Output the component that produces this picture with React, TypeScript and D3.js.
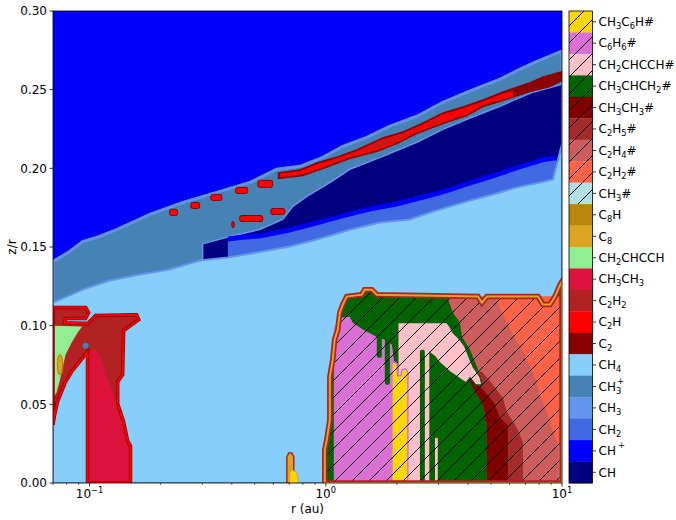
import React from 'react'
import * as d3 from 'd3'

type Pt = [number, number]
type Box = [number, number, number, number] // r0, r1, z0, z1

// colorbar, top to bottom ('#' = ice, hatched)
const cbLabels = ['CH_3C_6H#', 'C_6H_6#', 'CH_2CHCCH#', 'CH_3CHCH_2#', 'CH_3CH_3#', 'C_2H_5#', 'C_2H_4#', 'C_2H_2#', 'CH_3#',
  'C_8H', 'C_8', 'CH_2CHCCH', 'CH_3CH_3', 'C_2H_2', 'C_2H', 'C_2', 'CH_4', 'CH_3^+', 'CH_3', 'CH_2', 'CH^+', 'CH']
const cbColors = ['gold', 'orchid', 'pink', 'darkgreen', 'maroon', 'brown', 'indianred', 'tomato', 'powderblue',
  'darkgoldenrod', 'goldenrod', 'lightgreen', 'crimson', 'firebrick', 'red', 'darkred', 'lightskyblue', 'steelblue',
  'cornflowerblue', 'royalblue', 'blue', 'navy']

const yTicks = [0, 0.05, 0.1, 0.15, 0.2, 0.25, 0.3]
const xMajor = [0.1, 1, 10]
const xMajorExp = ['\u22121', '0', '1']
const xMinor = [0.07, 0.08, 0.09, 0.2, 0.3, 0.4, 0.5, 0.6, 0.7, 0.8, 0.9, 2, 3, 4, 5, 6, 7, 8, 9]

// upper layers: boundaries (r [au], z/r), everything below each line is that species
const ch3pTop: Pt[] = [[0.07, 0.1408], [0.082, 0.147], [0.0934, 0.1535], [0.11, 0.1567], [0.13, 0.161], [0.18, 0.1707],
  [0.248, 0.1783], [0.345, 0.1847], [0.477, 0.191], [0.62, 0.1994], [0.776, 0.2013], [0.971, 0.207], [1.18, 0.214],
  [1.49, 0.2197], [1.87, 0.2268], [2.43, 0.2331], [3.13, 0.242], [3.96, 0.2484], [5.46, 0.2567], [6.64, 0.263],
  [7.83, 0.268], [10, 0.2745]]
const chTop: Pt[] = [[0.301, 0.152], [0.392, 0.1567], [0.525, 0.1611], [0.657, 0.1675], [0.725, 0.1758], [0.831, 0.1822],
  [1.04, 0.191], [1.264, 0.1994], [1.744, 0.2076], [2.43, 0.2166], [3.13, 0.2248], [3.96, 0.2312], [5.46, 0.2395],
  [7.54, 0.2484], [10, 0.2535]]
const chBottom: Pt[] = [[0.385, 0.1567], [0.454, 0.158], [0.525, 0.1586], [0.608, 0.1605], [0.704, 0.1624], [0.916, 0.1669],
  [1.18, 0.1713], [1.537, 0.1758], [2.0, 0.179], [2.58, 0.1834], [3.13, 0.1866], [3.96, 0.1917], [5.1, 0.1968],
  [6.64, 0.2025], [8.31, 0.207], [9.52, 0.2083]]
const ch2Top: Pt[] = [[0.385, 0.1535], [0.454, 0.1548], [0.525, 0.1554], [0.608, 0.1573], [0.704, 0.1592], [0.916, 0.1637],
  [1.18, 0.1682], [1.537, 0.1726], [2.0, 0.1758], [2.58, 0.18], [3.13, 0.1834], [3.96, 0.1885], [5.1, 0.1936],
  [6.64, 0.1994], [8.31, 0.2038], [9.43, 0.2051]]
const ch4Top: Pt[] = [[0.07, 0.1146], [0.08, 0.1185], [0.0934, 0.1229], [0.1215, 0.1287], [0.163, 0.1325], [0.218, 0.1357],
  [0.2925, 0.1414], [0.385, 0.1433], [0.51, 0.1465], [0.704, 0.1503], [0.916, 0.1548], [1.264, 0.161], [1.694, 0.1656],
  [2.27, 0.1675], [2.84, 0.1726], [3.96, 0.179], [5.1, 0.1834], [6.44, 0.1879], [8.07, 0.191], [9.16, 0.193],
  [9.62, 0.2057], [10, 0.2153]]

// C2 / C2H / C2H2 streak along the upper layer
const streakC2: Pt[] = [[0.626, 0.1975], [0.776, 0.1994], [0.916, 0.2038], [1.11, 0.2076], [1.35, 0.2121], [1.74, 0.2197],
  [2.12, 0.2236], [2.58, 0.2293], [3.13, 0.2357], [3.81, 0.2395], [4.63, 0.2439], [5.62, 0.249], [7.32, 0.2548],
  [8.31, 0.2586], [10, 0.2618], [10, 0.2554], [8.9, 0.2516], [7.32, 0.2484], [5.62, 0.2427], [4.63, 0.2389],
  [3.96, 0.2331], [3.13, 0.228], [2.43, 0.2217], [2.0, 0.2153], [1.64, 0.2102], [1.26, 0.2057], [0.971, 0.1994],
  [0.799, 0.1949], [0.626, 0.193]]
const streakC2H: Pt[] = [[0.64, 0.1965], [0.776, 0.1982], [0.916, 0.2026], [1.11, 0.2064], [1.35, 0.2108], [1.74, 0.2185],
  [2.12, 0.2223], [2.58, 0.228], [3.13, 0.2344], [3.81, 0.2382], [4.63, 0.2426], [5.62, 0.2476], [6.2, 0.249],
  [6.2, 0.2455], [5.62, 0.244], [4.63, 0.2402], [3.96, 0.2344], [3.13, 0.2293], [2.43, 0.223], [2.0, 0.2166],
  [1.64, 0.2115], [1.26, 0.207], [0.971, 0.2007], [0.799, 0.1962], [0.64, 0.1943]]
const streakC2H2: Pt[] = [[1.04, 0.2035], [1.35, 0.2098], [1.74, 0.2172], [2.12, 0.221], [2.58, 0.2262], [3.04, 0.2318],
  [3.04, 0.2305], [2.43, 0.2245], [2.0, 0.2185], [1.64, 0.2135], [1.26, 0.2085], [1.04, 0.2025]]
const c2hBlobs: Box[] = [[0.218, 0.236, 0.17, 0.174], [0.268, 0.2925, 0.1745, 0.1783], [0.326, 0.363, 0.1796, 0.1834],
  [0.415, 0.467, 0.184, 0.1879], [0.515, 0.596, 0.1879, 0.1924], [0.4, 0.41, 0.1624, 0.1662],
  [0.432, 0.541, 0.1662, 0.17], [0.585, 0.67, 0.1707, 0.1745]]

// inner disc, r < 0.2 au
const innerC2H2: Pt[] = [[0.07, 0.1115], [0.0962, 0.1115], [0.099, 0.1083], [0.0962, 0.1045], [0.0791, 0.1045],
  [0.0784, 0.1019], [0.098, 0.1013], [0.106, 0.1064], [0.158, 0.107], [0.1615, 0.1038], [0.1394, 0.0968],
  [0.138, 0.0688], [0.1315, 0.0643], [0.1315, 0.0503], [0.139, 0.0395], [0.145, 0.0268], [0.149, 0.0236], [0.149, 0],
  [0.098, 0], [0.098, 0.0834], [0.0908, 0.0771], [0.0839, 0.0707], [0.0791, 0.0643], [0.076, 0.058], [0.0731, 0.0516],
  [0.0711, 0.0433], [0.07, 0.0369]]
const innerCH2CHCCH: Pt[] = [[0.07, 0.1], [0.093, 0.0995], [0.0889, 0.0955], [0.0839, 0.0892], [0.0791, 0.0815],
  [0.0769, 0.0732], [0.0746, 0.0643], [0.0724, 0.0573], [0.07, 0.0541]]
const innerCH3CH3: Pt[] = [[0.098, 0], [0.098, 0.0809], [0.103, 0.0847], [0.107, 0.0841], [0.1124, 0.0783], [0.118, 0.0675],
  [0.124, 0.0592], [0.13, 0.0497], [0.1315, 0.0465], [0.139, 0.0395], [0.145, 0.0268], [0.149, 0.0236], [0.149, 0]]
const innerC8: Box = [0.0731, 0.0769, 0.0688, 0.0815]
const innerCH3p: Pt = [0.0962, 0.0873]
const spikeC8: Pt[] = [[0.684, 0], [0.684, 0.0166], [0.697, 0.0191], [0.718, 0.0191], [0.732, 0.0166], [0.732, 0]]
const spikeCH3C6H: Pt[] = [[0.704, 0], [0.704, 0.007], [0.718, 0.0083], [0.746, 0.007], [0.761, 0.0045], [0.761, 0]]

// outer disc ices, r > 1 au
const iceEdge: Pt[] = [[0.99, 0], [0.99, 0.021], [1.01, 0.0274], [1.04, 0.0401], [1.04, 0.0675], [1.07, 0.0783],
  [1.09, 0.0911], [1.124, 0.0975], [1.147, 0.1083], [1.18, 0.1134], [1.227, 0.1185], [1.42, 0.1197], [1.46, 0.1229],
  [1.566, 0.1229], [1.644, 0.1197], [4.41, 0.1185], [4.58, 0.1146], [4.81, 0.1185], [7.91, 0.1185], [8.31, 0.1134],
  [8.9, 0.1134], [9.34, 0.1185], [9.82, 0.1261], [10, 0.128], [10, 0]]
const iceC6H6: Pt[] = [[1.081, 0], [1.081, 0.0987], [1.147, 0.1051], [1.264, 0.1057], [1.301, 0.1019], [1.435, 0.0975],
  [1.582, 0.0943], [1.661, 0.0924], [1.778, 0.0911], [1.905, 0.0879], [1.942, 0.0783], [1.942, 0]]
const iceCH3C6H: Pt[] = [[1.905, 0], [1.905, 0.0758], [1.942, 0.0771], [2.0, 0.0758], [2.019, 0.0682], [2.078, 0.0682],
  [2.1, 0.072], [2.162, 0.0726], [2.226, 0.0707], [2.226, 0]]
const iceCH2CHCCH: Pt[] = [[2.019, 0], [2.019, 0.1019], [3.256, 0.1019], [3.35, 0.0994], [3.45, 0.0955], [3.7, 0.0911],
  [3.88, 0.0866], [4.08, 0.0783], [4.2, 0.0739], [4.49, 0.0675], [4.58, 0.0624], [4.32, 0.0624], [4.08, 0.0669],
  [3.92, 0.0637], [3.35, 0.0707], [3.04, 0.0764], [2.9, 0.0803], [2.76, 0.0828], [2.76, 0]]
const iceC2H4: Pt[] = [[3.256, 0.1185], [10, 0.1185], [10, 0], [4.81, 0], [4.81, 0.0369], [4.63, 0.0497], [4.49, 0.0675],
  [4.36, 0.0739], [4.08, 0.0847], [3.77, 0.093], [3.7, 0.1019], [3.45, 0.1083]]
const iceC2H2: Pt[] = [[5.2, 0.1185], [10, 0.1185], [10, 0.0274], [9.62, 0.0242], [9.16, 0.0325], [8.64, 0.0452],
  [8.07, 0.056], [7.54, 0.0707], [6.83, 0.0834], [6.2, 0.0943], [5.62, 0.107]]
const iceC2H5: Pt[] = [[4.28, 0.0707], [4.58, 0.0707], [5.1, 0.0624], [5.62, 0.0541], [5.85, 0.0452], [6.44, 0.035],
  [6.83, 0.0261], [6.83, 0], [4.81, 0], [4.81, 0.0369], [4.63, 0.0497], [4.2, 0.0624]]
const iceCH3CH3: Pt[] = [[3.88, 0.0707], [4.08, 0.0707], [4.41, 0.0624], [4.86, 0.056], [5.2, 0.0497], [5.46, 0.0414],
  [5.9, 0.0369], [5.9, 0], [4.81, 0], [4.81, 0.0369], [4.63, 0.0497], [4.2, 0.0605]]
const iceCH3CHCH2Drips: Box[] = [[1.644, 1.727, 0.0796, 0.095], [1.778, 1.868, 0.0624, 0.093], [1.942, 2.019, 0.0834, 0.103],
  [2.503, 2.627, 0, 0.0847]]
const iceCH2CHCCHStrips: Box[] = [[2.9, 2.98, 0, 0.0287]]
const iceCH3: Box = [9.7, 10, 0, 0.024]

const W = 676
const H = 520
const left = 53
const right = 562
const top = 11
const bottom = 483
const font = 'DejaVu Sans'

const Chem = ({ s, x, y, size }: { s: string, x: number, y: number, size: number }) => {
  const parts = s.match(/_\d+|\^\+|[^_^]+/g) || []
  const small = size * 0.7
  let shift = 0
  const spans = parts.map((p, i) => {
    if (p[0] === '_') {
      const dy = 3 - shift
      shift = 3
      return <tspan key={i} dy={dy} fontSize={small}>{p.slice(1)}</tspan>
    }
    if (p[0] === '^') {
      const afterSub = parts[i - 1] && parts[i - 1][0] === '_'
      const dy = -7 - shift
      shift = -7
      return <tspan key={i} dx={afterSub ? -small * 0.5 : 2} dy={dy} fontSize={small}>+</tspan>
    }
    const dy = -shift
    shift = 0
    return <tspan key={i} dy={dy}>{p}</tspan>
  })
  return <text x={x} y={y} fontSize={size} fontFamily={font} fill="#000">{spans}</text>
}

export default function App() {
  const x = d3.scaleLog().domain([0.07, 10]).range([left, right])
  const y = d3.scaleLinear().domain([0, 0.3]).range([bottom, top])
  const band = d3.scaleBand().domain(cbLabels).range([top, bottom])
  const line = d3.line<Pt>().x(d => x(d[0])).y(d => y(d[1]))
  const poly = (pts: Pt[]) => line(pts) + 'Z'
  const below = (pts: Pt[]) => poly([...pts, [pts[pts.length - 1][0], 0], [pts[0][0], 0]])
  const col = (s: string) => cbColors[cbLabels.indexOf(s)]
  const box = (b: Box) => ({ x: x(b[0]), y: y(b[3]), width: x(b[1]) - x(b[0]), height: y(b[2]) - y(b[3]) })

  const cbX = 569
  const cbW = 23.5

  return (
    <svg width={W} height={H} style={{ position: 'absolute', left: 0, top: 0, background: '#fff' }}>
      <defs>
        <clipPath id="plot"><rect x={left} y={top} width={right - left} height={bottom - top} /></clipPath>
        <pattern id="hatch" patternUnits="userSpaceOnUse" width={17} height={17}>
          <path d="M0,17L17,0M-4,4L4,-4M13,21L21,13" stroke="#000" strokeWidth={1} />
        </pattern>
      </defs>

      <g clipPath="url(#plot)">
        <rect x={left} y={top} width={right - left} height={bottom - top} fill={col('CH^+')} />
        <path d={below(ch3pTop)} fill={col('CH_3^+')} stroke={col('CH_3')} strokeWidth={3} />
        <path d={below(chTop)} fill={col('CH')} stroke={col('CH_3')} strokeWidth={1.5} />
        <path d={below(chBottom)} fill={col('CH^+')} />
        <path d={below(ch2Top)} fill={col('CH_2')} />
        <path d={below(ch4Top)} fill={col('CH_4')} stroke={col('CH_3')} strokeWidth={2} />

        <path d={poly(streakC2)} fill={col('C_2')} />
        <path d={poly(streakC2H)} fill={col('C_2H')} />
        <path d={poly(streakC2H2)} fill={col('C_2H_2')} />
        {c2hBlobs.map((b, i) => (
          <rect key={i} {...box(b)} rx={2} fill={col('C_2H')} stroke={col('C_2')} strokeWidth={1} />
        ))}

        {/* inner disc */}
        <path d={poly(innerC2H2)} fill={col('C_2H_2')} />
        <path d={poly(innerCH2CHCCH)} fill={col('CH_2CHCCH')} />
        <path d={poly(innerCH3CH3)} fill={col('CH_3CH_3')} />
        <path d={poly(innerC2H2)} fill="none" stroke={col('C_2')} strokeWidth={3.5} />
        <path d={poly(innerC2H2)} fill="none" stroke={col('C_2H')} strokeWidth={2} />
        {(() => {
          const b = box(innerC8)
          return <ellipse cx={b.x + b.width / 2} cy={b.y + b.height / 2} rx={b.width / 2} ry={b.height / 2}
            fill={col('C_8')} stroke={col('C_8H')} strokeWidth={1.2} />
        })()}
        <circle cx={x(innerCH3p[0])} cy={y(innerCH3p[1])} r={3} fill={col('CH_3^+')} />

        <path d={poly(spikeC8)} fill={col('C_8')} stroke={col('C_2H_2')} strokeWidth={1.5} />
        <path d={poly(spikeCH3C6H)} fill={col('CH_3C_6H#')} stroke={col('C_8')} strokeWidth={1} />

        {/* outer disc ices */}
        <path d={poly(iceEdge)} fill={col('CH_3CHCH_2#')} />
        <path d={poly(iceC6H6)} fill={col('C_6H_6#')} />
        <path d={poly(iceC2H4)} fill={col('C_2H_4#')} />
        <path d={poly(iceC2H2)} fill={col('C_2H_2#')} />
        <path d={poly(iceC2H5)} fill={col('C_2H_5#')} />
        <path d={poly(iceCH3CH3)} fill={col('CH_3CH_3#')} />
        <path d={poly(iceCH2CHCCH)} fill={col('CH_2CHCCH#')} stroke={col('CH_3CHCH_2#')} strokeWidth={1.2} />
        <path d={poly(iceCH3C6H)} fill={col('CH_3C_6H#')} stroke={col('C_6H_6#')} strokeWidth={1.5} />
        {iceCH3CHCH2Drips.map((b, i) => (
          <rect key={i} {...box(b)} rx={2} fill={col('CH_3CHCH_2#')} />
        ))}
        {iceCH2CHCCHStrips.map((b, i) => (
          <rect key={i} {...box(b)} rx={1} fill={col('CH_2CHCCH#')} />
        ))}
        <rect {...box(iceCH3)} fill={col('CH_3#')} />
        <path d={poly(iceEdge)} fill="url(#hatch)" />
        <path d={poly(iceEdge)} fill="none" stroke={col('C_2H_2')} strokeWidth={5.5} />
        <path d={poly(iceEdge)} fill="none" stroke={col('C_8')} strokeWidth={2} />
      </g>
      <rect x={left} y={top} width={right - left} height={bottom - top} fill="none" stroke="#000" strokeWidth={0.8} />

      {/* y axis */}
      {yTicks.map(t => (
        <g key={t}>
          <line x1={left - 3.5} x2={left} y1={y(t)} y2={y(t)} stroke="#000" strokeWidth={0.8} />
          <text x={left - 6} y={y(t) + 4.2} textAnchor="end" fontSize={12} fontFamily={font}>{d3.format('.2f')(t)}</text>
        </g>
      ))}
      <text transform={`translate(16,${(top + bottom) / 2}) rotate(-90)`} textAnchor="middle" fontSize={12} fontFamily={font}>z/r</text>

      {/* x axis */}
      {xMinor.map(t => (
        <line key={t} x1={x(t)} x2={x(t)} y1={bottom} y2={bottom + 2} stroke="#000" strokeWidth={0.6} />
      ))}
      {xMajor.map((t, i) => (
        <g key={t}>
          <line x1={x(t)} x2={x(t)} y1={bottom} y2={bottom + 3.5} stroke="#000" strokeWidth={0.8} />
          <text x={x(t)} y={bottom + 15} textAnchor="middle" fontSize={12} fontFamily={font}>
            10<tspan dy={-5} fontSize={8.4}>{xMajorExp[i]}</tspan>
          </text>
        </g>
      ))}
      <text x={(left + right) / 2} y={513} textAnchor="middle" fontSize={12} fontFamily={font}>r (au)</text>

      {/* colorbar */}
      {cbLabels.map((l, i) => (
        <g key={l}>
          <rect x={cbX} y={band(l)} width={cbW} height={band.bandwidth() + 0.3} fill={cbColors[i]} />
          {l.endsWith('#') && <rect x={cbX} y={band(l)} width={cbW} height={band.bandwidth()} fill="url(#hatch)" />}
          <line x1={cbX + cbW} x2={cbX + cbW + 3.5} y1={(band(l) || 0) + band.bandwidth() / 2}
            y2={(band(l) || 0) + band.bandwidth() / 2} stroke="#000" strokeWidth={0.8} />
          <Chem s={l} x={cbX + cbW + 6} y={(band(l) || 0) + band.bandwidth() / 2 + 4.3} size={12} />
        </g>
      ))}
      <rect x={cbX} y={top} width={cbW} height={bottom - top} fill="none" stroke="#000" strokeWidth={0.8} />
    </svg>
  )
}
